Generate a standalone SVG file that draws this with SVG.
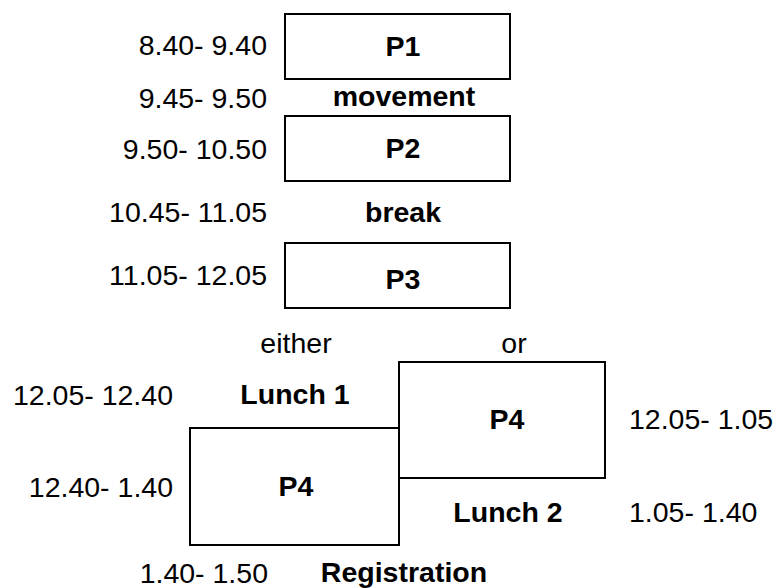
<svg xmlns="http://www.w3.org/2000/svg" width="778" height="588" viewBox="0 0 778 588">
<style>
.box{fill:#fff;stroke:#000;stroke-width:2}
text{font-family:"Liberation Sans",Arial,sans-serif;font-size:28.5px;fill:#000}
.b{font-weight:bold;text-anchor:middle}
.t{text-anchor:end}
.l{text-anchor:start}
.m{text-anchor:middle}
</style>
<rect width="778" height="588" fill="#fff"/>
<g id="connectors"/>
<g id="p1"><rect class="box" x="285" y="14" width="225" height="65"/><text class="b" x="403" y="56">P1</text></g>
<g id="movement"><text class="b" x="404" y="106">movement</text></g>
<g id="p2"><rect class="box" x="285" y="116" width="225" height="65"/><text class="b" x="403" y="158">P2</text></g>
<g id="break"><text class="b" x="403" y="222">break</text></g>
<g id="p3"><rect class="box" x="285" y="243" width="225" height="65"/><text class="b" x="403" y="289">P3</text></g>
<g id="p4b"><rect class="box" x="399" y="362" width="206" height="116"/><text class="b" x="507" y="429">P4</text></g>
<g id="p4a"><rect class="box" x="190" y="428" width="209" height="117"/><text class="b" x="296" y="496">P4</text></g>
<g id="lunch1"><text class="b" x="295" y="404">Lunch 1</text></g>
<g id="lunch2"><text class="b" x="508" y="522">Lunch 2</text></g>
<g id="registration"><text class="b" x="404" y="582">Registration</text></g>
<g id="labels">
<text class="t" x="267" y="55">8.40- 9.40</text>
<text class="t" x="267" y="108">9.45- 9.50</text>
<text class="t" x="267" y="159">9.50- 10.50</text>
<text class="t" x="267" y="222">10.45- 11.05</text>
<text class="t" x="267" y="285">11.05- 12.05</text>
<text class="m" x="296" y="353">either</text>
<text class="m" x="514" y="353">or</text>
<text class="t" x="173" y="405">12.05- 12.40</text>
<text class="t" x="173" y="497">12.40- 1.40</text>
<text class="t" x="268" y="583">1.40- 1.50</text>
<text class="l" x="629" y="429">12.05- 1.05</text>
<text class="l" x="629" y="522">1.05- 1.40</text>
</g>
</svg>
